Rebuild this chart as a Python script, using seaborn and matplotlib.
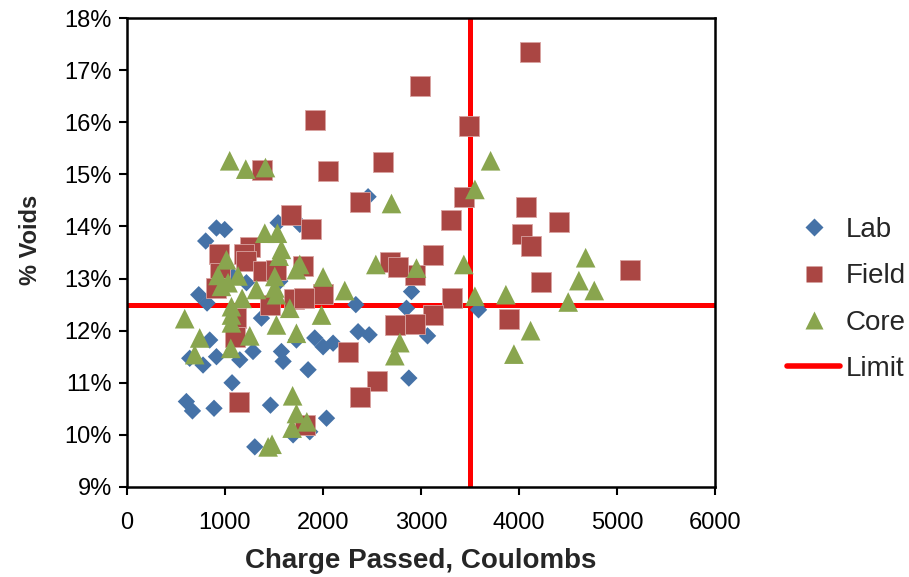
import numpy as np
import pandas as pd
import matplotlib
matplotlib.use("Agg")
import matplotlib.pyplot as plt
import seaborn as sns
from matplotlib.lines import Line2D
from matplotlib.ticker import FuncFormatter

# values
lab_charge = [606, 668, 640, 732, 817, 776, 844, 888, 803, 913, 997, 913, 1072, 1151, 1286,
              1372, 1304, 1464, 1576, 1593, 1542, 1763, 1729, 1848, 1916, 2001, 2103, 2036,
              1695, 1865, 2335, 2358, 2471, 2460, 2876, 2903, 2852, 3067, 3587, 1082, 1219, 1559]
lab_voids = [10.64, 10.46, 11.47, 12.69, 12.53, 11.34, 11.82, 10.51, 13.72, 13.97, 13.94, 11.50,
             11.00, 11.44, 11.60, 12.24, 9.77, 10.57, 11.60, 11.41, 14.07, 14.04, 11.82, 11.25,
             11.86, 11.69, 11.76, 10.32, 10.00, 10.06, 12.50, 11.98, 11.92, 14.57, 11.09, 12.75,
             12.43, 11.90, 12.40, 13.04, 12.92, 12.95]

field_charge = [1916, 2046, 1382, 2613, 2376, 1678, 1875, 2988, 4111, 3488, 3437, 3305, 4070,
                4410, 4026, 4118, 3124, 5132, 4223, 3312, 3124, 2937, 3900, 2937, 2682, 2770,
                2733, 2256, 2546, 2376, 1143, 1814, 1797, 2001, 1700, 1810, 1457, 939, 1253,
                1190, 1219, 1388, 946, 913, 1117, 1100, 1525]
field_voids = [16.04, 15.06, 15.08, 15.23, 14.47, 14.21, 13.95, 16.70, 17.34, 15.93, 14.56, 14.13,
               14.38, 14.09, 13.86, 13.62, 13.46, 13.17, 12.93, 12.63, 12.31, 12.13, 12.22, 13.06,
               13.32, 13.22, 12.10, 11.60, 11.03, 10.73, 10.64, 10.19, 13.24, 12.70, 12.60, 12.63,
               12.50, 13.48, 13.60, 13.48, 13.33, 13.14, 13.10, 12.82, 12.25, 11.88, 13.17]

core_charge = [1048, 1212, 1413, 2699, 1406, 1535, 1576, 3710, 3550, 3550, 2954, 3437, 3866,
               4118, 3948, 4502, 4611, 4680, 4768, 1763, 2001, 2222, 2539, 1985, 1729, 2784,
               2733, 1690, 1729, 1835, 1685, 1440, 1480, 589, 742, 691, 1066, 1066, 1059, 1253,
               1175, 1525, 1525, 1661, 1015, 1133, 929, 1031, 1321, 1508, 1729, 1552, 964, 1066, 1508]
core_voids = [15.26, 15.10, 15.13, 14.44, 13.87, 13.87, 13.56, 15.26, 14.71, 12.66, 13.20, 13.27,
              12.69, 12.00, 11.55, 12.55, 12.96, 13.40, 12.77, 13.27, 13.03, 12.77, 13.27, 12.30,
              11.95, 11.77, 11.52, 10.75, 10.41, 10.25, 10.13, 9.77, 9.82, 12.23, 11.86, 11.54,
              12.30, 12.15, 11.66, 11.90, 12.62, 12.11, 12.69, 12.43, 13.36, 13.05, 13.06, 12.92,
              12.79, 13.04, 13.17, 13.43, 12.85, 12.46, 12.82]

limit_charge = 3500
limit_voids = 12.5

x_ticks = [0, 1000, 2000, 3000, 4000, 5000, 6000]
y_ticks = [9, 10, 11, 12, 13, 14, 15, 16, 17, 18]

lab = pd.DataFrame({"charge": lab_charge, "voids": lab_voids})
field = pd.DataFrame({"charge": field_charge, "voids": field_voids})
core = pd.DataFrame({"charge": core_charge, "voids": core_voids})

sns.set_style("white")
plt.rcParams["font.family"] = ["Liberation Sans", "DejaVu Sans"]

blue = "#4572A7"
red = "#AA4643"
green = "#89A54E"

fig = plt.figure(figsize=(9.09, 5.77), dpi=100)
ax = fig.add_axes([0.1397, 0.156, 0.6469, 0.8128])

ax.axhline(limit_voids, color="red", lw=3.6, zorder=1)
ax.axvline(limit_charge, color="red", lw=3.6, zorder=1)

sns.scatterplot(data=lab, x="charge", y="voids", marker="D", s=78, color=blue,
                edgecolor="none", ax=ax, zorder=2)
sns.scatterplot(data=field, x="charge", y="voids", marker="s", s=200, color=red,
                edgecolor="#d9a3a1", linewidth=0.6, ax=ax, zorder=3)
sns.scatterplot(data=core, x="charge", y="voids", marker="^", s=200, color=green,
                edgecolor="none", ax=ax, zorder=4)

ax.set_xlim(0, 6000)
ax.set_ylim(9, 18)
ax.set_xticks(x_ticks)
ax.set_yticks(y_ticks)
ax.yaxis.set_major_formatter(FuncFormatter(lambda v, p: f"{v:.0f}%"))
ax.tick_params(axis="both", direction="out", length=6, width=1.5, labelsize=17,
               colors="black", left=True, bottom=True)
ax.tick_params(axis="x", pad=12)
ax.tick_params(axis="y", pad=5)
for sp in ax.spines.values():
    sp.set_color("black")
    sp.set_linewidth(1.8)

ax.set_xlabel("Charge Passed, Coulombs", fontsize=20, fontweight="bold", labelpad=10)
ax.set_ylabel("% Voids", fontsize=17, fontweight="bold")
ax.yaxis.set_label_coords(-0.145, 0.527)

handles = [
    Line2D([], [], marker="D", color=blue, ls="none", markersize=8.7, markeredgecolor="none"),
    Line2D([], [], marker="s", color=red, ls="none", markersize=12, markeredgecolor="none"),
    Line2D([], [], marker="^", color=green, ls="none", markersize=13, markeredgecolor="none"),
    Line2D([], [], color="red", lw=4),
]
ax.legend(handles, ["Lab", "Field", "Core", "Limit"], loc="center left",
          bbox_to_anchor=(1.104, 0.40), borderaxespad=0, frameon=False, fontsize=20,
          handlelength=1.9, handletextpad=0.2, labelspacing=0.73)

fig.savefig("out.png", dpi=100)
